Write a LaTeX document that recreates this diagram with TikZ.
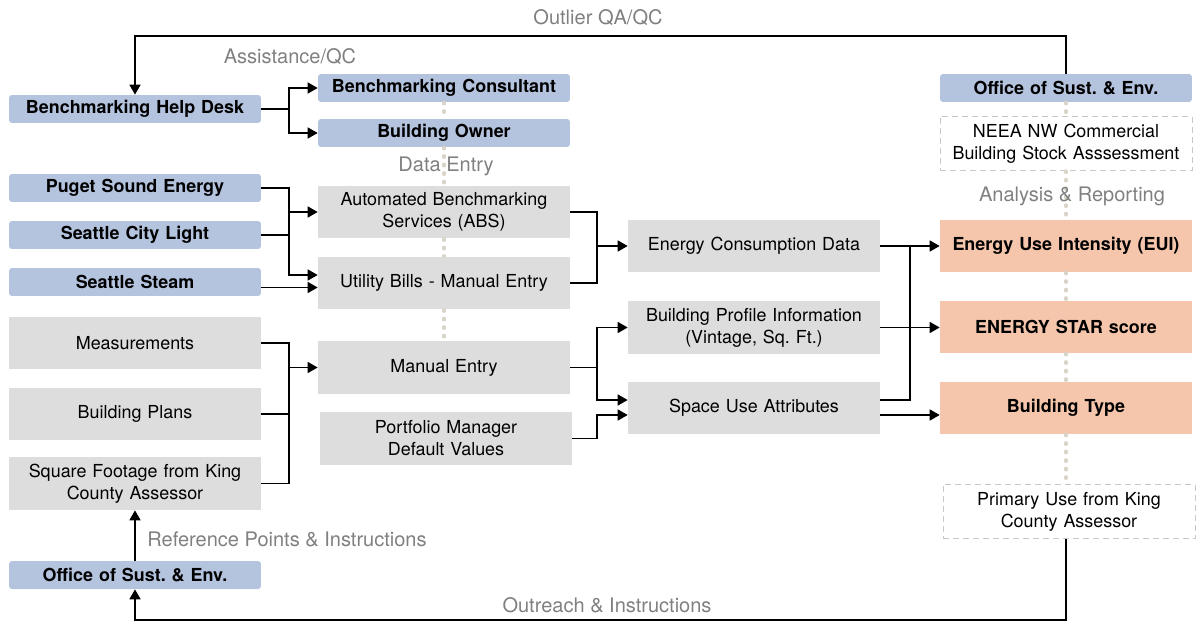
\documentclass[tikz,border=0pt]{standalone}
\usepackage{fontspec}
\setmainfont{TeX Gyre Heros}
\usetikzlibrary{arrows.meta}
\frenchspacing

\definecolor{kastenblau}{RGB}{180,195,222}
\definecolor{kastengrau}{RGB}{221,221,221}
\definecolor{kastenorange}{RGB}{245,198,172}
\definecolor{strichgrau}{RGB}{200,200,200}
\definecolor{punktgrau}{RGB}{216,212,200}
\definecolor{schriftgrau}{RGB}{128,128,128}

\begin{document}
\begin{tikzpicture}[x=0.02cm, y=-0.02cm,
		font=\fontsize{10.2}{12.6}\selectfont,
		kasten/.style={minimum width=5.04cm, inner sep=0pt, align=center, text width=5cm},
		blaukasten/.style={kasten, fill=kastenblau, rounded corners=0.06cm, minimum height=0.56cm, font=\fontsize{10.2}{12.6}\selectfont\bfseries},
		graukasten/.style={kasten, fill=kastengrau, minimum height=1.06cm},
		orangekasten/.style={kasten, fill=kastenorange, minimum height=1.04cm, font=\fontsize{10.2}{12.6}\selectfont\bfseries},
		strichkasten/.style={kasten, draw=strichgrau, line width=0.5pt, dash pattern=on 0.12cm off 0.08cm, minimum height=1.08cm},
		marke/.style={text=schriftgrau, font=\fontsize{11.4}{13}\selectfont},
		linie/.style={line width=0.9pt},
		pfeil/.style={line width=0.9pt, -{Triangle[length=0.2cm, width=0.22cm]}},
		punkte/.style={punktgrau, line width=0.065cm, line cap=round, dash pattern=on 0.03cm off 0.14cm}]
			\useasboundingbox (0, 0) rectangle (1198, 622);
			
			% Hilfslinien fuer Knickpunkte
			\coordinate (jA) at (289, 0);
			\coordinate (jB) at (597, 0);
			\coordinate (jC) at (910, 0);
			\coordinate (obenY) at (0, 36);
			\coordinate (untenY) at (0, 620);
			
			% linke Spalte
			\node[blaukasten] (helpdesk) at (135, 109) {Benchmarking Help Desk};
			\node[blaukasten] (pse) at (135, 188) {Puget Sound Energy};
			\node[blaukasten] (scl) at (135, 235) {Seattle City Light};
			\node[blaukasten] (steam) at (135, 282) {Seattle Steam};
			\node[graukasten] (meas) at (135, 343) {Measurements};
			\node[graukasten] (plans) at (135, 414) {Building Plans};
			\node[graukasten] (sqft) at (135, 483.5) {Square Footage from King\\County Assessor};
			\node[blaukasten] (oseBot) at (135, 575) {Office of Sust. \& Env.};
			
			% zweite Spalte
			\node[blaukasten] (consultant) at (444, 88) {Benchmarking Consultant};
			\node[blaukasten] (owner) at (444, 133) {Building Owner};
			\node[graukasten] (abs) at (444, 212) {Automated Benchmarking\\Services (ABS)};
			\node[graukasten] (bills) at (444, 283) {Utility Bills - Manual Entry};
			\node[graukasten] (manual) at (444, 367.5) {Manual Entry};
			\node[graukasten] (pmdef) at (446, 438.5) {Portfolio Manager\\Default Values};
			
			% dritte Spalte
			\node[graukasten, minimum height=1.04cm] (ecd) at (754, 246) {Energy Consumption Data};
			\node[graukasten] (profile) at (754, 327.5) {Building Profile Information\\(Vintage, Sq. Ft.)};
			\node[graukasten, minimum height=1.04cm] (spaceuse) at (754, 408) {Space Use Attributes};
			
			% rechte Spalte
			\node[blaukasten] (oseTop) at (1066, 88) {Office of Sust. \& Env.};
			\node[strichkasten] (neea) at (1066, 143.5) {NEEA NW Commercial\\Building Stock Asssessment};
			\node[orangekasten] (eui) at (1066, 246) {Energy Use Intensity (EUI)};
			\node[orangekasten] (estar) at (1066, 327) {ENERGY STAR score};
			\node[orangekasten] (btype) at (1066, 408) {Building Type};
			\node[strichkasten] (primuse) at (1069, 511.5) {Primary Use from King\\County Assessor};
			
			% Punktlinien
			\draw[punkte] (consultant.south) -- (owner.north);
			\draw[punkte] (owner.south) -- (abs.north);
			\draw[punkte] (abs.south) -- (bills.north);
			\draw[punkte] (bills.south) -- (manual.north);
			\draw[punkte] (oseTop.south) -- (neea.north);
			\draw[punkte] (neea.south) -- (eui.north);
			\draw[punkte] (eui.south) -- (estar.north);
			\draw[punkte] (estar.south) -- (btype.north);
			\draw[punkte] (btype.south) -- (btype.south |- primuse.north);
			
			% graue Beschriftungen
			\node[marke] (tOutlier) at (598, 18) {Outlier QA/QC};
			\node[marke] (tAssist) at (290, 57) {Assistance/QC};
			\node[marke] (tData) at (446, 166) {Data Entry};
			\node[marke] (tAnalysis) at (1072, 196) {Analysis \& Reporting};
			\node[marke] (tReference) at (287, 539) {Reference Points \& Instructions};
			\node[marke] (tOutreach) at (607, 605) {Outreach \& Instructions};
			
			% Rueckfuehrungen oben und unten
			\draw[pfeil] (oseTop.north) -- (oseTop.north |- obenY) -| (helpdesk.north);
			\draw[pfeil] (eui.center |- primuse.south) -- (eui.center |- untenY) -| (oseBot.south);
			\draw[pfeil] (oseBot.north) -- (sqft.south);
			
			% Help Desk
			\draw[linie] (helpdesk.east) -- (helpdesk.east -| jA);
			\draw[pfeil] (helpdesk.east -| jA) |- (consultant.west);
			\draw[pfeil] (helpdesk.east -| jA) |- (owner.west);
			
			% Versorger
			\draw[pfeil] (pse.east) -| (jA |- abs.west) -- (abs.west);
			\draw[linie] (scl.east) -- (scl.east -| jA);
			\draw[pfeil] (pse.east -| jA) |- ([yshift=0.16cm]bills.west);
			\draw[pfeil] ([yshift=-0.11cm]steam.east) -- ([yshift=-0.11cm]steam.east -| bills.west);
			
			% Flaechenangaben
			\draw[linie] (meas.east) -| (jA |- sqft.east) -- (sqft.east);
			\draw[linie] (plans.east) -- (plans.east -| jA);
			\draw[pfeil] (jA |- manual.west) -- (manual.west);
			
			% zweite -> dritte Spalte
			\draw[linie] (abs.east) -| (jB |- bills.east) -- (bills.east);
			\draw[pfeil] (jB |- ecd.west) -- (ecd.west);
			\draw[linie] (manual.east) -- (manual.east -| jB);
			\draw[pfeil] (manual.east -| jB) |- (profile.west);
			\draw[pfeil] (manual.east -| jB) |- ([yshift=0.16cm]spaceuse.west);
			\draw[pfeil] (pmdef.east) -| ([yshift=-0.14cm]spaceuse.west -| jB) -- ([yshift=-0.14cm]spaceuse.west);
			
			% dritte -> rechte Spalte
			\draw[pfeil] (ecd.east) -- (eui.west);
			\draw[linie] ([yshift=0.16cm]spaceuse.east) -| (jC |- ecd.east);
			\draw[pfeil] (profile.east) -- (profile.east -| estar.west);
			\draw[pfeil] ([yshift=-0.14cm]spaceuse.east) -- ([yshift=-0.14cm]spaceuse.east -| btype.west);
		\end{tikzpicture}
\end{document}
